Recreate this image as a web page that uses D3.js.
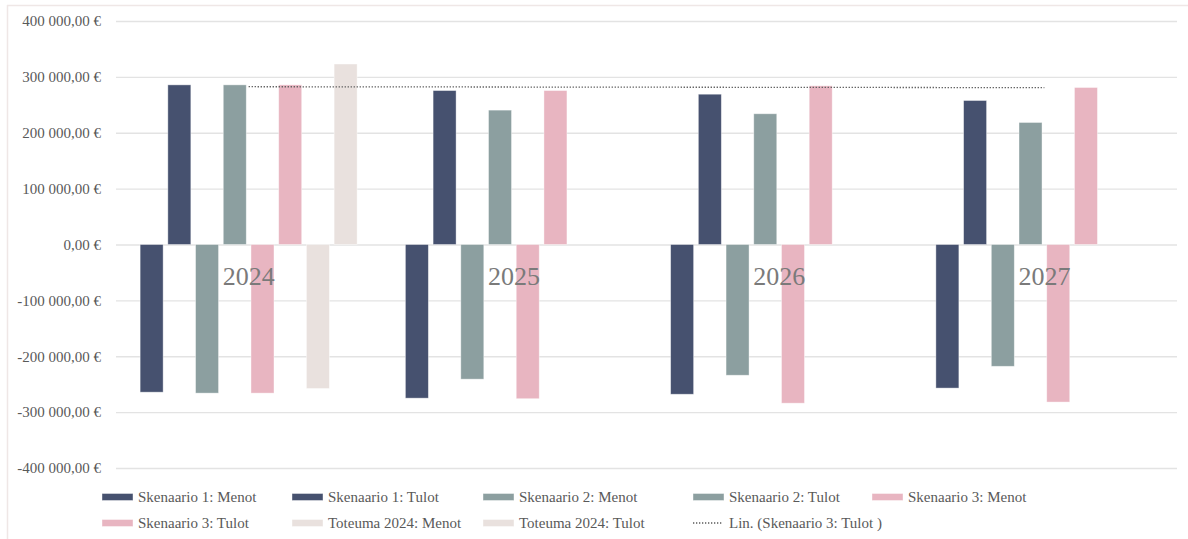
<!DOCTYPE html>
<html>
<head>
<meta charset="utf-8">
<script src="https://cdn.jsdelivr.net/npm/d3@7"></script>
<style>
  body { margin: 0; background: #fff; }
</style>
</head>
<body>
<svg id="chart" width="1188" height="539"></svg>
<script>
// data
const years = ["2024", "2025", "2026", "2027"];
const s1Menot = [-264300, -275000, -268000, -257000];
const s1Tulot = [285700, 275500, 269000, 257700];
const s2Menot = [-266000, -241000, -234000, -218000];
const s2Tulot = [285700, 240500, 234000, 218400];
const s3Menot = [-266000, -276000, -284000, -282000];
const s3Tulot = [285700, 275500, 284000, 281000];
const totMenot = [-257700, null, null, null];
const totTulot = [323000, null, null, null];
const yTicks = [-400000, -300000, -200000, -100000, 0, 100000, 200000, 300000, 400000];

const series = [
  { name: "Skenaario 1: Menot", values: s1Menot, color: "#46516f" },
  { name: "Skenaario 1: Tulot", values: s1Tulot, color: "#46516f" },
  { name: "Skenaario 2: Menot", values: s2Menot, color: "#8c9fa0" },
  { name: "Skenaario 2: Tulot", values: s2Tulot, color: "#8c9fa0" },
  { name: "Skenaario 3: Menot", values: s3Menot, color: "#e8b5c1" },
  { name: "Skenaario 3: Tulot", values: s3Tulot, color: "#e8b5c1" },
  { name: "Toteuma 2024: Menot", values: totMenot, color: "#e9e1de" },
  { name: "Toteuma 2024: Tulot", values: totTulot, color: "#e9e1de" }
];
const trendName = "Lin. (Skenaario 3: Tulot )";

const FONT = "Liberation Serif";
const svg = d3.select("#chart");

// chart frame (top + left edge only)
svg.append("line").attr("x1", 7).attr("x2", 1188).attr("y1", 5.5).attr("y2", 5.5)
  .attr("stroke", "#efe7e6").attr("stroke-width", 1.5);
svg.append("line").attr("x1", 7.5).attr("x2", 7.5).attr("y1", 5).attr("y2", 539)
  .attr("stroke", "#efe7e6").attr("stroke-width", 1.5);

const left = 116, right = 1177;
const x = d3.scaleBand().domain(years).range([left, right]).padding(0);
const clusterW = 217;
const off = (x.bandwidth() - clusterW) / 2;
const xs = d3.scaleBand().domain(series.map(s => s.name))
  .range([off, off + clusterW]).paddingInner(0.17).paddingOuter(0);

const y = d3.scaleLinear().domain([-400000, 400000]).range([468, 21]);

const loc = d3.formatLocale({ decimal: ",", thousands: " ", grouping: [3], currency: ["", " €"], minus: "-" });
const fmt = loc.format("$,.2f");

// grid + y labels
const yAxis = d3.axisLeft(y).tickValues(yTicks).tickSize(-(right - left)).tickFormat(fmt).tickPadding(15);
const gy = svg.append("g").attr("transform", `translate(${left},0)`).call(yAxis)
  .attr("font-family", FONT).attr("font-size", 15);
gy.select(".domain").remove();
gy.selectAll(".tick line").attr("stroke", "#e3e3e3").attr("stroke-width", 1.3);
gy.selectAll(".tick text").attr("fill", "#595959");

// bars
series.forEach(s => {
  svg.append("g").selectAll("rect")
    .data(years.map((yr, i) => ({ yr, v: s.values[i] })).filter(d => d.v != null))
    .join("rect")
    .attr("x", d => x(d.yr) + xs(s.name))
    .attr("width", xs.bandwidth())
    .attr("y", d => y(Math.max(0, d.v)))
    .attr("height", d => Math.abs(y(d.v) - y(0)))
    .attr("fill", s.color)
    .attr("stroke", "#ffffff").attr("stroke-opacity", 0.5).attr("stroke-width", 0.8);
});

// linear trendline for Skenaario 3: Tulot
const xi = s3Tulot.map((v, i) => i + 1);
const mx = d3.mean(xi), my = d3.mean(s3Tulot);
const slope = d3.sum(xi, (v, i) => (v - mx) * (s3Tulot[i] - my)) / d3.sum(xi, v => (v - mx) ** 2);
const icpt = my - slope * mx;
const trend = years.map((yr, i) => ({ yr, v: icpt + slope * (i + 1) }));
svg.append("path").datum(trend)
  .attr("d", d3.line().x(d => x(d.yr) + x.bandwidth() / 2).y(d => y(d.v)))
  .attr("fill", "none").attr("stroke", "#595959").attr("stroke-width", 1.3)
  .attr("stroke-dasharray", "1.3,1.7");

// category labels
svg.append("g").selectAll("text").data(years).join("text")
  .attr("x", d => x(d) + x.bandwidth() / 2)
  .attr("y", 285)
  .attr("text-anchor", "middle")
  .attr("font-family", FONT)
  .attr("font-size", 26)
  .attr("fill", "#7a7a7a")
  .text(d => d);

// legend
const legendCols = [102, 292, 483, 693, 872];
const legendRows = [497, 523];
const items = series.map(s => ({ name: s.name, color: s.color, type: "bar" }))
  .concat([{ name: trendName, color: "#595959", type: "line" }]);
const lg = svg.append("g").attr("font-family", FONT).attr("font-size", 15);
items.forEach((it, i) => {
  const cx = legendCols[i % 5], cy = legendRows[Math.floor(i / 5)];
  if (it.type === "bar") {
    lg.append("rect").attr("x", cx).attr("y", cy - 3.5).attr("width", 31).attr("height", 7)
      .attr("fill", it.color).attr("stroke", "#fff").attr("stroke-opacity", 0.5).attr("stroke-width", 0.8);
  } else {
    lg.append("line").attr("x1", cx).attr("x2", cx + 30).attr("y1", cy).attr("y2", cy)
      .attr("stroke", it.color).attr("stroke-width", 1.3).attr("stroke-dasharray", "1.3,1.7");
  }
  lg.append("text").attr("x", cx + 36).attr("y", cy + 5)
    .attr("fill", "#595959").text(it.name);
});
</script>
</body>
</html>
